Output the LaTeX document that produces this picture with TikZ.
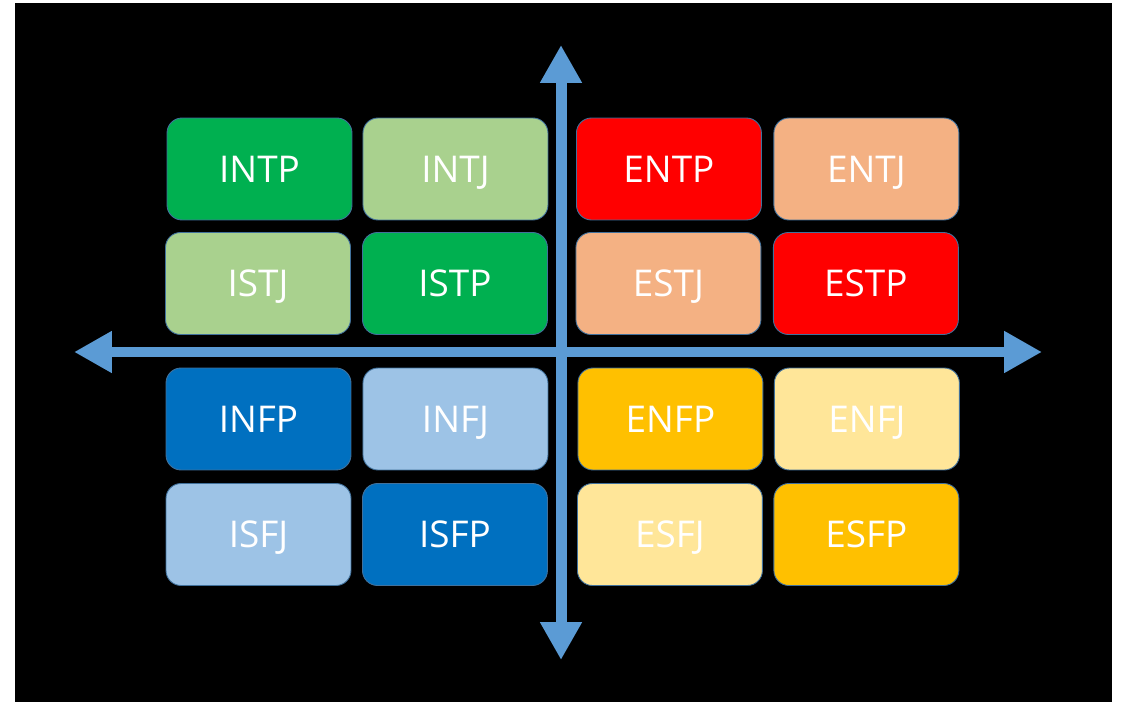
\documentclass[tikz,border=0pt]{standalone}
\usepackage{fontspec}
\setmainfont{Open Sans}
\usetikzlibrary{arrows.meta}

\definecolor{dgreen}{HTML}{00B050}
\definecolor{lgreen}{HTML}{A9D18E}
\definecolor{dred}{HTML}{FF0000}
\definecolor{lsalmon}{HTML}{F4B183}
\definecolor{dblue}{HTML}{0070C0}
\definecolor{lblue}{HTML}{9DC3E6}
\definecolor{dgold}{HTML}{FFC000}
\definecolor{lgold}{HTML}{FFE699}
\definecolor{axisblue}{HTML}{5B9BD5}
\definecolor{rim}{HTML}{41719C}

\begin{document}
\begin{tikzpicture}[x=0.02cm, y=-0.02cm, node distance=3.92cm,
    type/.style={draw=rim, line width=0.5pt, rounded corners=0.3cm,
      minimum width=3.7cm, minimum height=2.04cm, text=white,
      text height=15pt, text depth=0pt,
      font=\fontsize{21}{25}\selectfont},
    axis/.style={axisblue, line width=0.22cm,
      {Triangle[width=0.79cm,length=0.76cm]}-{Triangle[width=0.79cm,length=0.76cm]}}]
  \useasboundingbox (0,0) rectangle (1135,702);
  \fill[black] (15,3) rectangle (1112,702);

  % introverts / extraverts, top half
  \node[type, fill=dgreen] (intp) at (259.5,169) {INTP};
  \node[type, fill=lgreen, right of=intp] (intj) {INTJ};
  \node[type, fill=dred, node distance=4.27cm, right of=intj] (entp) {ENTP};
  \node[type, fill=lsalmon, node distance=3.95cm, right of=entp] (entj) {ENTJ};
  \node[type, fill=lgreen] (istj) at (258,283.5) {ISTJ};
  \node[type, fill=dgreen, node distance=3.94cm, right of=istj] (istp) {ISTP};
  \node[type, fill=lsalmon, node distance=4.27cm, right of=istp] (estj) {ESTJ};
  \node[type, fill=dred, node distance=3.95cm, right of=estj] (estp) {ESTP};

  % bottom half
  \node[type, fill=dblue] (infp) at (258.5,419) {INFP};
  \node[type, fill=lblue, node distance=3.94cm, right of=infp] (infj) {INFJ};
  \node[type, fill=dgold, node distance=4.3cm, right of=infj] (enfp) {ENFP};
  \node[type, fill=lgold, node distance=3.93cm, right of=enfp] (enfj) {ENFJ};
  \node[type, fill=lblue] (isfj) at (258.5,534.5) {ISFJ};
  \node[type, fill=dblue, node distance=3.93cm, right of=isfj] (isfp) {ISFP};
  \node[type, fill=lgold, node distance=4.3cm, right of=isfp] (esfj) {ESFJ};
  \node[type, fill=dgold, node distance=3.93cm, right of=esfj] (esfp) {ESFP};

  % axes
  \coordinate (top) at (561,45);
  \coordinate (bottom) at (561,660);
  \coordinate (left) at (74,352);
  \coordinate (right) at (1042,352);
  \draw[axis] (bottom) -- (top);
  \draw[axis] (left) -- (right);
\end{tikzpicture}
\end{document}
